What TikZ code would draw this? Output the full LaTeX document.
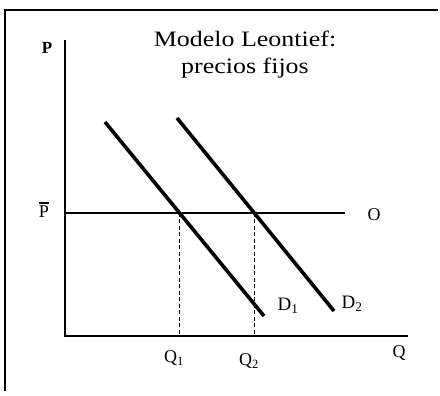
\documentclass[tikz,border=0pt]{standalone}
\usepackage{fontspec}
\setmainfont{Liberation Serif}
\usepackage{tikz}
\usetikzlibrary{positioning}

\begin{document}
\begin{tikzpicture}[x=1pt, y=1pt, font=\fontsize{18}{20}\selectfont,
    axis/.style={line width=1.4pt},
    demand/.style={line width=3.6pt},
    guide/.style={line width=0.9pt, dashed, dash pattern=on 4pt off 2.5pt}]
        \useasboundingbox (0,0) rectangle (440,396);
        % frame (top and left only)
        \draw[line width=1.3pt] (438,386) -- (5,386) -- (5,5);
        % axes
        \coordinate (orig) at (65,60);
        \coordinate (ytop) at (65,356);
        \coordinate (xend) at (408,60);
        \draw[axis] (ytop) -- (orig) -- (xend);
        \node (plab) at (47,348) {\fontsize{17}{19}\selectfont\textbf{P}};
        \node (qlab) at (399,43) {Q};
        % fixed price line
        \coordinate (pleft) at (65,183);
        \coordinate (pright) at (345,183);
        \draw[line width=1.2pt] (pleft) -- (pright);
        \node (pbar) at (44,186) {\rlap{\raisebox{14pt}{\rule{10pt}{1.2pt}}}P};
        \node (olab) at (374,181) {O};
        % demand curves
        \coordinate (d1a) at (105,274);
        \coordinate (d1b) at (264,80);
        \coordinate (d2a) at (177,278);
        \coordinate (d2b) at (334,85);
        \draw[demand] (d1a) -- (d1b);
        \draw[demand] (d2a) -- (d2b);
        \node (d1lab) at (288,90) {\fontsize{19}{21}\selectfont D\textsubscript{1}};
        \node (d2lab) at (352,92) {\fontsize{19}{21}\selectfont D\textsubscript{2}};
        % equilibria and guides
        \coordinate (e1) at (179.6,183);
        \coordinate (e2) at (254.3,183);
        \coordinate (q1) at (179.6,60);
        \coordinate (q2) at (254.3,60);
        \draw[guide] (e1) -- (q1);
        \draw[guide] (e2) -- (q2);
        \node (q1lab) at (174,38) {Q\textsubscript{1}};
        \node (q2lab) at (249,35) {Q\textsubscript{2}};
        % title
        \node[align=center, xscale=1.18, font=\fontsize{22}{27}\selectfont] (title) at (245,341)
              {Modelo Leontief:\\precios fijos};
      \end{tikzpicture}
\end{document}
